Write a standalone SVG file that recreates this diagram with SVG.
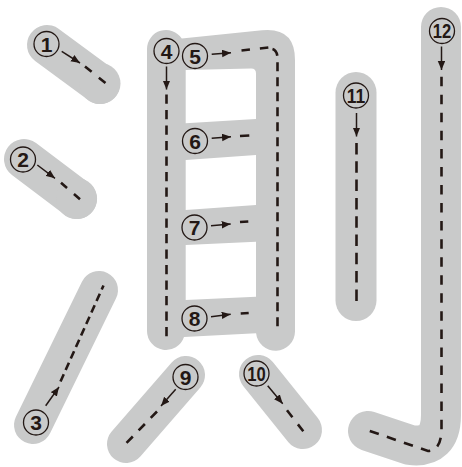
<svg xmlns="http://www.w3.org/2000/svg" width="462" height="467" viewBox="0 0 462 467">
<style>
.band{fill:none;stroke:#c9caca;stroke-linecap:round;stroke-linejoin:round}
.frame{fill:#c9caca;fill-rule:evenodd}
.guide{fill:none;stroke:#231815;stroke-width:2.6}
.arrow{fill:none;stroke:#231815;stroke-width:1.5;marker-end:url(#ah)}
.num circle{fill:none;stroke:#231815;stroke-width:1.3}
.num text{font-family:"Liberation Sans",Arial,sans-serif;font-weight:bold;font-size:21px;fill:#231815;text-anchor:middle}
.num text.two{font-size:20px}
</style>
<defs>
<marker id="ah" markerUnits="userSpaceOnUse" markerWidth="10" markerHeight="8" refX="9" refY="3.75" orient="auto"><path d="M0,0 L9,3.75 L0,7.5 Z" fill="#231815"/></marker>
</defs>
<rect width="462" height="467" fill="#ffffff"/>
<g id="bands">
<path class="band" d="M47,45 L100,84" stroke-width="40"/>
<circle cx="100" cy="83.5" r="20.5" fill="#c9caca"/>
<path class="band" d="M24,159 L77,199" stroke-width="40"/>
<circle cx="76.5" cy="198.5" r="20.5" fill="#c9caca"/>
<path class="band" d="M33,425 L99,290" stroke-width="38"/>
<path class="frame" d="M147,331 L147,49 A19,19 0 0 1 181.8,38.5 L262,30.3 Q295,27 295,60 L295,331.5 A19.5,19.5 0 0 1 256.1,333.3 L184,337 A19,19 0 0 1 147,331 Z M185.7,70 L251,68.4 Q256,68.3 256,73.3 L256,119 L185.7,123.3 Z M185.7,160 L256,155 L256,205 L185.7,210 Z M185.7,245 L256,241.7 L256,296.7 L185.7,300 Z"/>
<path class="band" d="M186,375 L126,444" stroke-width="38"/>
<path class="band" d="M258,374 L303,430" stroke-width="38"/>
<path class="band" d="M356,92.5 V300.5" stroke-width="41"/>
<path class="band" d="M441,27 V415 Q441,449 410,445 L368,431" stroke-width="40"/>
</g>
<g id="stroke-1">
<path class="arrow" d="M61.7,51.3 L80,63"/>
<path class="guide" d="M85,66.5 L105.5,83" stroke-dasharray="8.5 9.3"/>
<g class="num"><circle cx="46.5" cy="44" r="12.5"/><text x="46.5" y="51.5">1</text></g>
</g>
<g id="stroke-2">
<path class="arrow" d="M37.3,165 L55,178.3"/>
<path class="guide" d="M61,182.7 L80,199.3" stroke-dasharray="8 9.2"/>
<g class="num"><circle cx="23" cy="159.5" r="12.5"/><text x="23" y="167">2</text></g>
</g>
<g id="stroke-3">
<path class="arrow" d="M45.7,405.7 L59,387"/>
<path class="guide" d="M60.5,381.5 L103.5,285.5" stroke-dasharray="8 4.6"/>
<g class="num"><circle cx="36" cy="422.5" r="12.5"/><text x="36" y="430">3</text></g>
</g>
<g id="stroke-4">
<path class="arrow" d="M166.5,66.5 L166.5,89.5"/>
<path class="guide" d="M166.5,94.5 V338" stroke-dasharray="9.3 6.2"/>
<g class="num"><circle cx="166.5" cy="51" r="12.5"/><text x="166.5" y="58.5">4</text></g>
</g>
<g id="stroke-5">
<path class="arrow" d="M211.7,54.3 L231,52.7"/>
<path class="guide" d="M241.5,50.5 L268.5,47.5" stroke-dasharray="8.5 10"/>
<path class="guide" d="M272.5,49 Q277.5,50.5 277.5,59 V331" stroke-dasharray="9 6"/>
<g class="num"><circle cx="195" cy="56" r="12.5"/><text x="195" y="63.5">5</text></g>
</g>
<g id="stroke-6">
<path class="arrow" d="M211.7,138.3 L231,136.7"/>
<path class="guide" d="M240,136 L249.3,135.5"/>
<g class="num"><circle cx="195" cy="141" r="12.5"/><text x="195" y="148.5">6</text></g>
</g>
<g id="stroke-7">
<path class="arrow" d="M211,225.7 L230.7,224"/>
<path class="guide" d="M240,222 L248.3,221.5"/>
<g class="num"><circle cx="194.5" cy="227.5" r="12.5"/><text x="194.5" y="235">7</text></g>
</g>
<g id="stroke-8">
<path class="arrow" d="M211,316.7 L230.7,314.3"/>
<path class="guide" d="M240.7,313.5 L248.7,313"/>
<g class="num"><circle cx="194.5" cy="318.5" r="12.5"/><text x="194.5" y="326">8</text></g>
</g>
<g id="stroke-9">
<path class="arrow" d="M175.7,389.3 L161,406"/>
<path class="guide" d="M157,411.5 L126.5,443" stroke-dasharray="9 8.4"/>
<g class="num"><circle cx="185.5" cy="377" r="12.5"/><text x="185.5" y="384.5">9</text></g>
</g>
<g id="stroke-10">
<path class="arrow" d="M267.7,385.7 L282.7,403.7"/>
<path class="guide" d="M287,410.3 L303.3,431.3" stroke-dasharray="8.8 9"/>
<g class="num"><circle cx="256.5" cy="373.5" r="12.5"/><text class="two" x="256.5" y="380.7" textLength="18.5" lengthAdjust="spacingAndGlyphs">10</text></g>
</g>
<g id="stroke-11">
<path class="arrow" d="M356.5,113 L356.5,136.5"/>
<path class="guide" d="M356.5,143 V303" stroke-dasharray="11.5 6.8"/>
<g class="num"><circle cx="356" cy="95.5" r="12.5"/><text class="two" x="356" y="102.7" textLength="18.5" lengthAdjust="spacingAndGlyphs">11</text></g>
</g>
<g id="stroke-12">
<path class="arrow" d="M441.5,46.5 L441.5,70"/>
<path class="guide" d="M441.5,76.7 V428 Q441.5,451 428,451 L367,430" stroke-dasharray="9.5 8.55"/>
<g class="num"><circle cx="442" cy="31" r="12.5"/><text class="two" x="442" y="38.2" textLength="18.5" lengthAdjust="spacingAndGlyphs">12</text></g>
</g>
</svg>
